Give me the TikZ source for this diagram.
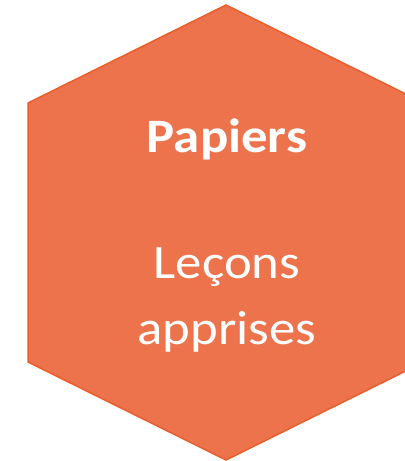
\documentclass[tikz,border=0pt]{standalone}
\usepackage{fontspec}
\setmainfont{Carlito}
\definecolor{hexfill}{RGB}{236,115,75}
\definecolor{hexline}{RGB}{232,95,45}
\tikzset{
  titre/.style={anchor=base, text=white, inner sep=0pt, xscale=1.1, font=\fontsize{48bp}{52bp}\selectfont\bfseries},
  ligne/.style={anchor=base, text=white, inner sep=0pt, xscale=1.1, font=\fontsize{48bp}{52bp}\selectfont}
}
\begin{document}
\begin{tikzpicture}[x=1bp, y=-1bp]

  % Bounding box of the scheme
  \useasboundingbox (0,0) rectangle (404,461) ;

  %%%%%%%%%%%%%%%%%%%%%%%%%%%%%%%%% Sommets de l'hexagone %%%%%%%%%%%%%%%%%%%%%%%%%%%%%%%%%%%%
  \coordinate (h1) at (226,5) ;
  \coordinate (h2) at (28,103) ;
  \coordinate (h3) at (28,362) ;
  \coordinate (h4) at (226,460) ;
  \coordinate (h5) at (424,362) ;
  \coordinate (h6) at (424,103) ;

  %%%%%%%%%%%%%%%%%%%%%%%%%%%%%%%%% Hexagone %%%%%%%%%%%%%%%%%%%%%%%%%%%%%%%%%%%%
  \draw[fill=hexfill, draw=hexline, line width=1.5bp, line join=miter]
    (h1) -- (h2) -- (h3) -- (h4) -- (h5) -- (h6) -- cycle ;

  %%%%%%%%%%%%%%%%%%%%%%%%%%%%%%%%% Textes %%%%%%%%%%%%%%%%%%%%%%%%%%%%%%%%%%%%
  \draw (227,153) node[titre] (t1) {Papiers} ;
  \draw (227,278) node[ligne] (t2) {Leçons} ;
  \draw (227,344) node[ligne] (t3) {apprises} ;

\end{tikzpicture}
\end{document}
